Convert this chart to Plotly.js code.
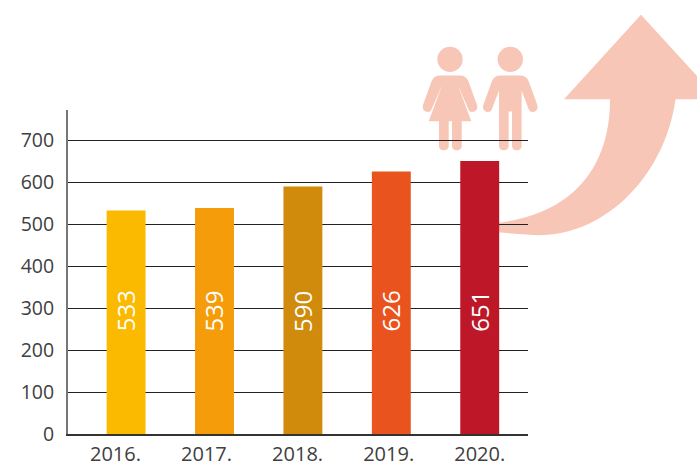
<!DOCTYPE html>
<html>
<head>
<meta charset="utf-8">
<script src="https://cdn.plot.ly/plotly-3.0.1.min.js"></script>
<style>html,body{margin:0;padding:0;background:#fff;overflow:hidden}</style>
</head>
<body>
<div id="chart" style="width:697px;height:465px"></div>
<script>
const years = ['2016.', '2017.', '2018.', '2019.', '2020.'];
const values = [533, 539, 590, 626, 651];
const barColors = ['#fbb900', '#f59c0b', '#d08b0c', '#e9531d', '#bd1728'];
const labelOffsets = [-0.12, -0.09, -0.06, -0.03, 0];
const yTicks = [0, 100, 200, 300, 400, 500, 600, 700];
const valueLabelY = 293;

const W = 697, H = 465;
const M = {l: 68, r: 169, t: 109.5, b: 30.5};
const pw = W - M.l - M.r, ph = H - M.t - M.b;
const px = x => ((x - M.l) / pw).toFixed(5);
const py = y => (1 - (y - M.t) / ph).toFixed(5);
const P = (x, y) => px(x) + ',' + py(y);
const tint = '#f7c6b7';

function pathShape(d) {
  return {type: 'path', xref: 'paper', yref: 'paper', layer: 'below', path: d,
          fillcolor: tint, line: {width: 0}};
}
function circle(cx, cy, r) {
  return {type: 'circle', xref: 'paper', yref: 'paper', layer: 'below',
          x0: px(cx - r), x1: px(cx + r), y0: py(cy + r), y1: py(cy - r),
          fillcolor: tint, line: {width: 0}};
}
function legEnd(a, b, y, bottom) {
  return 'C' + P(a, bottom) + ' ' + P(b, bottom) + ' ' + P(b, y);
}
function arms(cx, side) {
  return {
    shoulder: P(cx + side * 10, 75),
    q: 'Q' + P(cx + side * 16, 75) + ' ' + P(cx + side * 18.5, 81),
    outer: 'L' + P(cx + side * 27, 104.5),
    hand: 'C' + P(cx + side * 29, 111) + ' ' + P(cx + side * 20.5, 114) + ' ' + P(cx + side * 18.5, 109)
  };
}
function girl(cx) {
  const R = arms(cx, 1), L = arms(cx, -1);
  const d = 'M' + L.shoulder + ' L' + R.shoulder + ' ' + R.q + ' ' + R.outer + ' ' + R.hand +
    ' L' + P(cx + 7.6, 84) + ' L' + P(cx + 21.3, 120.7) + ' L' + P(cx + 11.7, 120.7) +
    ' L' + P(cx + 11.7, 145) + ' ' + legEnd(cx + 11.7, cx + 2, 145, 151.5) +
    ' L' + P(cx + 2, 120.7) + ' L' + P(cx - 1.3, 120.7) + ' L' + P(cx - 1.3, 145) + ' ' +
    legEnd(cx - 1.3, cx - 11, 145, 151.5) + ' L' + P(cx - 11, 120.7) + ' L' + P(cx - 21.3, 120.7) +
    ' L' + P(cx - 7.6, 84) + ' L' + P(cx - 18.5, 109) +
    ' C' + P(cx - 20.5, 114) + ' ' + P(cx - 29, 111) + ' ' + P(cx - 27, 104.5) +
    ' L' + P(cx - 18.5, 81) + ' Q' + P(cx - 16, 75) + ' ' + L.shoulder + ' Z';
  return [circle(cx, 58.7, 12.7), pathShape(d)];
}
function boy(cx) {
  const R = arms(cx, 1), L = arms(cx, -1);
  const d = 'M' + L.shoulder + ' L' + R.shoulder + ' ' + R.q + ' ' + R.outer + ' ' + R.hand +
    ' L' + P(cx + 11.3, 90) + ' L' + P(cx + 11.3, 145) + ' ' + legEnd(cx + 11.3, cx + 1.7, 145, 151.5) +
    ' L' + P(cx + 1.7, 111) + ' L' + P(cx - 1.7, 111) + ' L' + P(cx - 1.7, 145) + ' ' +
    legEnd(cx - 1.7, cx - 11.3, 145, 151.5) + ' L' + P(cx - 11.3, 90) + ' L' + P(cx - 18.5, 109) +
    ' C' + P(cx - 20.5, 114) + ' ' + P(cx - 29, 111) + ' ' + P(cx - 27, 104.5) +
    ' L' + P(cx - 18.5, 81) + ' Q' + P(cx - 16, 75) + ' ' + L.shoulder + ' Z';
  return [circle(cx, 58.7, 12.7), pathShape(d)];
}
const arrow = pathShape(
  'M' + P(564, 98.7) + ' L' + P(641, 14) + ' L' + P(697, 75.5) + ' L' + P(697, 98.7) +
  ' L' + P(675.5, 98.7) + ' C' + P(665, 175) + ' ' + P(605, 238) + ' ' + P(533, 235) +
  ' L' + P(495, 232) + ' L' + P(495, 223) + ' C' + P(570, 215) + ' ' + P(610, 170) + ' ' + P(610, 98.7) + ' Z');

const data = [{
  type: 'bar',
  x: years.map((_, i) => i),
  y: values,
  width: 0.44,
  marker: {color: barColors, line: {width: 0}},
  hoverinfo: 'none'
}];

const annotations = values.map((v, i) => ({
  x: i, y: valueLabelY, xref: 'x', yref: 'y', xshift: -1, text: String(v), showarrow: false,
  textangle: -90, font: {family: '"Open Sans", sans-serif', size: 24, color: '#ffffff'}
}));

const layout = {
  width: W, height: H,
  margin: M,
  paper_bgcolor: '#ffffff', plot_bgcolor: 'rgba(0,0,0,0)',
  showlegend: false,
  font: {family: '"Open Sans", sans-serif', color: '#404040'},
  xaxis: {
    range: [-0.657, 4.546], tickmode: 'array',
    tickvals: labelOffsets.map((o, i) => i + o), ticktext: years,
    tickfont: {size: 20, color: '#404040'}, ticks: '', showgrid: false, ticklabelstandoff: 1,
    showline: true, linecolor: '#333333', linewidth: 1.5, zeroline: false, fixedrange: true
  },
  yaxis: {
    range: [0, 772.5], tickmode: 'array', tickvals: yTicks, ticktext: yTicks.map(String),
    tickfont: {size: 19.5, color: '#404040'}, ticks: '', showgrid: true, ticklabelstandoff: 8,
    gridcolor: '#222222', gridwidth: 1, showline: true, linecolor: '#777777', linewidth: 2,
    zeroline: false, fixedrange: true
  },
  annotations: annotations,
  shapes: [arrow, ...girl(450), ...boy(510.3)]
};
Plotly.newPlot('chart', data, layout, {displayModeBar: false, staticPlot: true});
</script>
</body>
</html>
